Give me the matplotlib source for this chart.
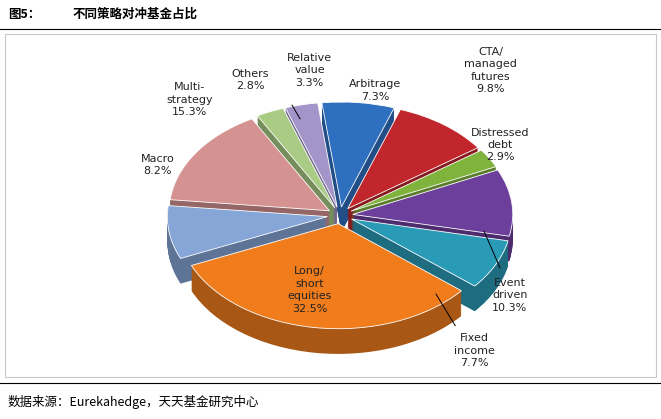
import matplotlib
matplotlib.use("Agg")
import matplotlib.pyplot as plt
import numpy as np
from matplotlib.colors import to_rgb

plt.rcParams['font.family'] = ['Noto Sans CJK SC', 'DejaVu Sans']

labels = ["Arbitrage", "CTA/\nmanaged\nfutures", "Distressed\ndebt", "Event\ndriven",
          "Fixed\nincome", "Long/\nshort\nequities", "Macro", "Multi-\nstrategy", "Others", "Relative\nvalue"]
values = [7.3, 9.8, 2.9, 10.3, 7.7, 32.5, 8.2, 15.3, 2.8, 3.3]
colors = ["#2f6fbf", "#c0262c", "#7fb33c", "#6c3f9c", "#2a9bb7", "#f07c1c",
          "#86a6d8", "#d49290", "#a9cb83", "#a394c9"]
label_pos = [(0.22, 1.19), (0.94, 1.38), (1.0, 0.67), (1.06, -0.76), (0.84, -1.29),
             (-0.19, -0.71), (-1.14, 0.48), (-0.94, 1.10), (-0.56, 1.29), (-0.19, 1.38)]

fig = plt.figure(figsize=(6.61, 4.19), dpi=100)
fig.text(0.012, 0.965, "图5：", fontsize=9, fontweight='bold', va='center')
fig.text(0.11, 0.965, "不同策略对冲基金占比", fontsize=9, fontweight='bold', va='center')
fig.add_artist(plt.Line2D([0.0, 1.0], [0.93, 0.93], color='black', lw=0.8))
fig.add_artist(plt.Line2D([0.0, 1.0], [0.085, 0.085], color='black', lw=0.8))
fig.add_artist(plt.Rectangle((0.008, 0.1), 0.984, 0.82, fill=False, edgecolor='#c8c8c8', lw=0.8))
fig.text(0.012, 0.04, "数据来源：Eurekahedge，天天基金研究中心", fontsize=9, va='center')

ax = fig.add_axes([0, 44 / 419, 1, 335 / 419])
ax.axis('off')
explode = [0.08] * len(values)
start = 97
depth = 0.24
nsteps = 30
dark = [tuple(c * 0.7 for c in to_rgb(col)) for col in colors]
for i in range(nsteps, 0, -1):
    dy = -depth * i / nsteps
    ax.pie(values, colors=dark, startangle=start, counterclock=False, explode=explode,
           center=(0, dy), radius=1.0, wedgeprops=dict(linewidth=0))
ax.pie(values, colors=colors, startangle=start, counterclock=False, explode=explode,
       center=(0, 0), radius=1.0, wedgeprops=dict(edgecolor='white', linewidth=0.6))
ax.set_aspect('auto')
ax.set_xlim(-2.125, 2.006)
ax.set_ylim(-1.52, 1.67)

for lab, v, (x, y) in zip(labels, values, label_pos):
    ax.text(x, y, f"{lab}\n{v}%", ha='center', va='center', fontsize=8,
            family=['DejaVu Sans'], color='#222222', linespacing=1.3)

# leader lines
ax.plot([0.9, 1.0], [-0.15, -0.5], color='black', lw=0.7)
ax.plot([0.6, 0.72], [-0.75, -1.05], color='black', lw=0.7)
ax.plot([-0.3, -0.25], [1.05, 0.92], color='black', lw=0.7)

fig.savefig("out.png", dpi=100)
